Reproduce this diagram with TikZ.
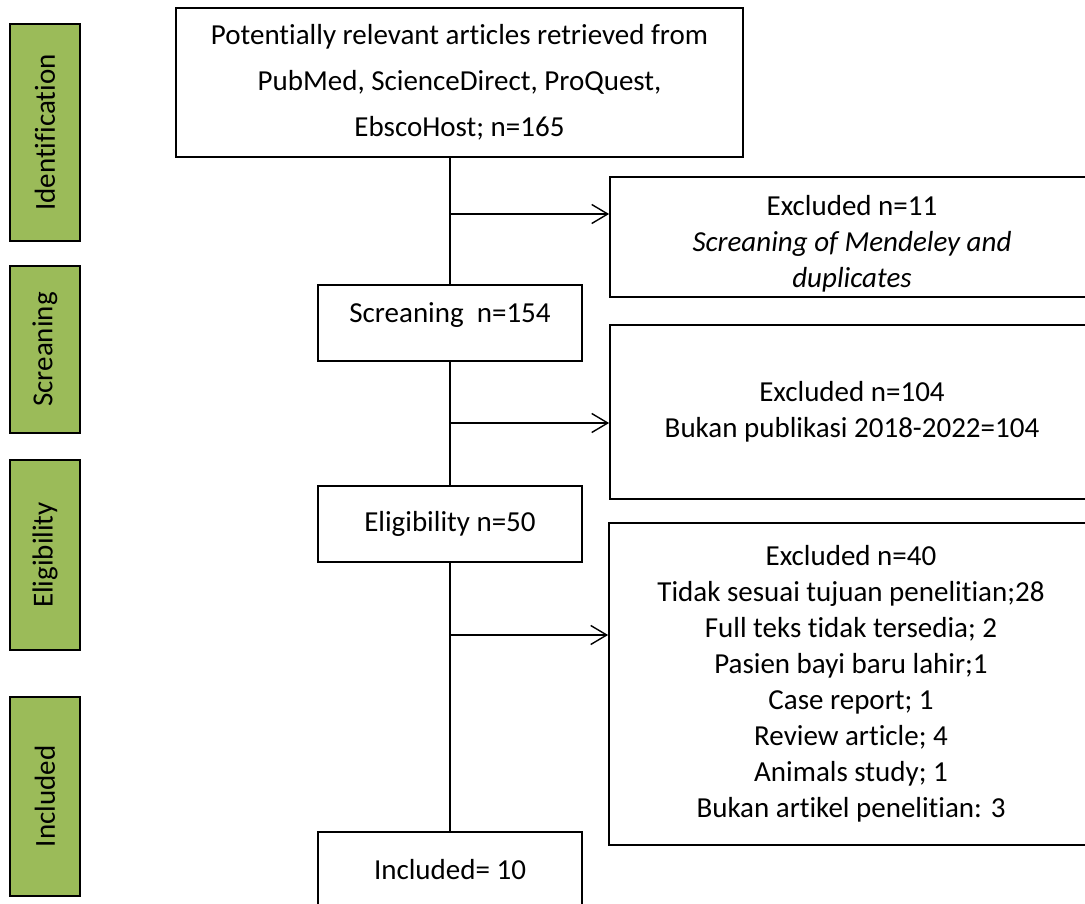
\documentclass[tikz,border=0pt]{standalone}
\usepackage{fontspec}
\setmainfont{Carlito}[RawFeature={-liga;-dlig;-calt}]
\usetikzlibrary{arrows.meta}
\definecolor{phasegreen}{HTML}{9BBB59}

\tikzset{
  flowbox/.style = {draw, line width=1.8pt, align=center, inner sep=0pt,
    font=\fontsize{29}{36}\selectfont},
  phasebox/.style = {draw, fill=phasegreen, line width=1.8pt, rotate=90,
    minimum height=70pt, inner sep=0pt, font=\fontsize{29}{36}\selectfont},
  link/.style = {line width=1.4pt},
  exitlink/.style = {link, -{Straight Barb[length=16pt, width=19pt]}}
}

\begin{document}
\begin{tikzpicture}[x=1pt, y=-1pt]
  \useasboundingbox (0,0) rectangle (1085,904);

  % phases on the left
  \node[phasebox, minimum width=217pt] (phId)   at (45,132.5) {Identification};
  \node[phasebox, minimum width=167pt] (phScr)  at (45,349.5) {Screaning};
  \node[phasebox, minimum width=190pt] (phElig) at (45,555)   {Eligibility};
  \node[phasebox, minimum width=199pt] (phIncl) at (45,796.5) {Included};

  % main column
  \node[flowbox, minimum width=567pt, minimum height=149pt,
        font=\fontsize{29}{46}\selectfont] (found) at (459.5,82.5)
        {Potentially relevant articles retrieved from\\PubMed, ScienceDirect, ProQuest,\\EbscoHost; n=165};
  \node[flowbox, minimum width=264pt, minimum height=76pt, text depth=20pt] (screen) at (450,323) {Screaning~~n=154};
  \node[flowbox, minimum width=264pt, minimum height=76pt] (elig) at (450,524) {Eligibility n=50};
  \node[flowbox, minimum width=264pt, minimum height=76pt] (incl) at (450,870) {Included= 10};

  % excluded records
  \node[flowbox, minimum width=484pt, minimum height=120pt] (excl1) at (852,237)
        {\rule{0pt}{34pt}Excluded n=11\\\textit{Screaning of Mendeley and}\\\textit{duplicates}};
  \node[flowbox, minimum width=484pt, minimum height=174pt] (excl2) at (852,412)
        {Excluded n=104\\Bukan publikasi 2018-2022=104};
  \node[flowbox, minimum width=484pt, minimum height=322pt] (excl3) at (851,684)
        {Excluded n=40\\Tidak sesuai tujuan penelitian;28\\Full teks tidak tersedia; 2\\Pasien bayi baru lahir;1\\Case report; 1\\Review article; 4\\Animals study; 1\\Bukan artikel penelitian: 3};

  % connectors
  \coordinate (split1) at (450,214);
  \coordinate (split2) at (450,423);
  \coordinate (split3) at (450,635);
  \draw[link] (found.south -| screen.north) -- (screen.north);
  \draw[link] (screen) -- (elig);
  \draw[link] (elig) -- (incl);
  \draw[exitlink] (split1) -- (split1 -| excl1.west);
  \draw[exitlink] (split2) -- (split2 -| excl2.west);
  \draw[exitlink] (split3) -- (split3 -| excl3.west);
\end{tikzpicture}
\end{document}
